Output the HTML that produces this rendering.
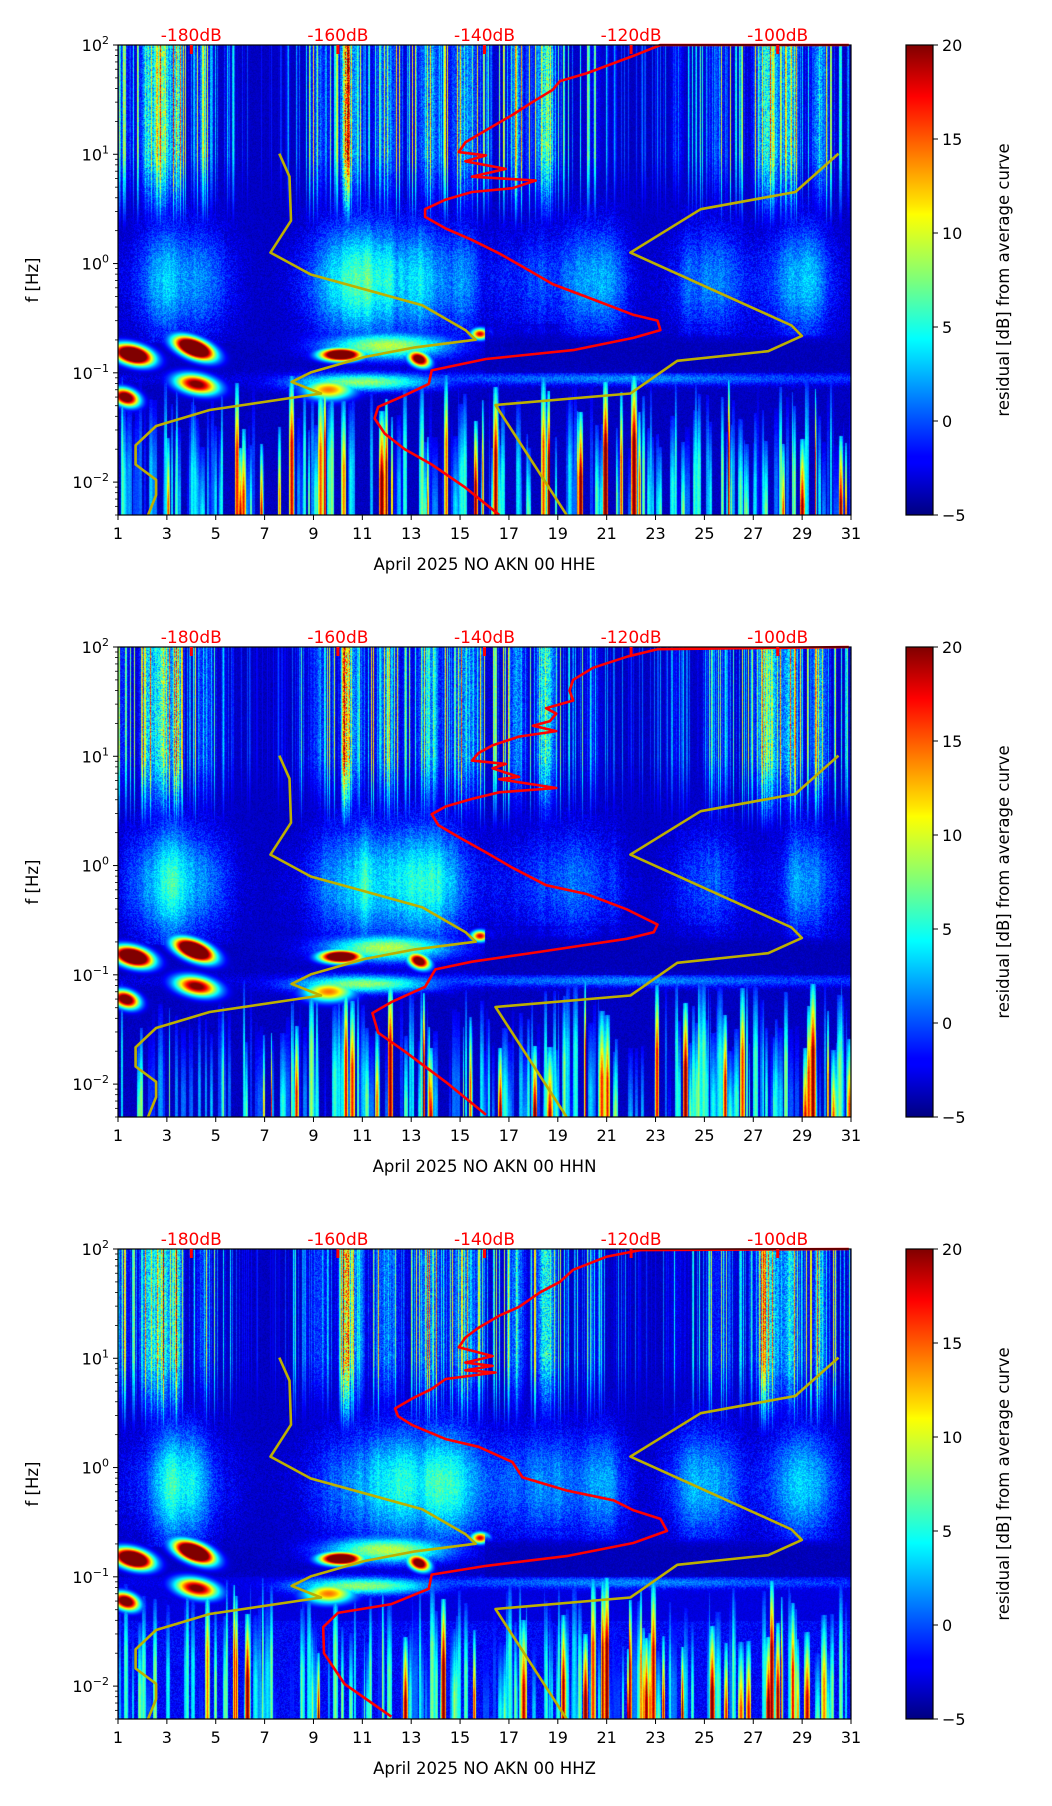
<!DOCTYPE html>
<html><head><meta charset="utf-8">
<style>
html,body{margin:0;padding:0;background:#fff;}
#wrap{position:relative;width:1052px;height:1806px;overflow:hidden;}
canvas{position:absolute;}
svg{position:absolute;left:0;top:0;}
text{font-family:"DejaVu Sans","Liberation Sans",sans-serif;}
</style></head>
<body>
<div id="wrap">
<canvas id="c0" width="733" height="470" style="left:118px;top:45px"></canvas>
<canvas id="c1" width="733" height="470" style="left:118px;top:647px"></canvas>
<canvas id="c2" width="733" height="470" style="left:118px;top:1249px"></canvas>
<svg id="ov" width="1052" height="1806">
<defs>
<linearGradient id="jet" x1="0" y1="1" x2="0" y2="0">
<stop offset="0" stop-color="#000080"/><stop offset="0.11" stop-color="#0000ff"/>
<stop offset="0.125" stop-color="#0000ff"/><stop offset="0.34" stop-color="#00ddff"/>
<stop offset="0.375" stop-color="#00ffff"/><stop offset="0.5" stop-color="#7dff7a"/>
<stop offset="0.64" stop-color="#ffff00"/><stop offset="0.66" stop-color="#ffe600"/>
<stop offset="0.89" stop-color="#ff0000"/><stop offset="1" stop-color="#800000"/>
</linearGradient>
</defs>
</svg>
</div>
<script>
// ---- data ----
const channels = ["HHE","HHN","HHZ"];
const dayTicks = [1,3,5,7,9,11,13,15,17,19,21,23,25,27,29,31];
const dbTicks = [-180,-160,-140,-120,-100];
const decadeTicks = [2,1,0,-1,-2];
const cbTicks = [20,15,10,5,0,-5];
// red PSD curves (dB, log10 f)
const redDbE = [-90.3,-116,-119.7,-126.1,-129.7,-130.7,-133.4,-136.2,-139.8,-142.6,-143.5,-139.8,-142.6,-137.1,-141.7,-133,-136.2,-141.7,-145.3,-148.1,-148.1,-145.3,-141.7,-138,-133.4,-130.7,-125.2,-119.7,-116.4,-116,-119.7,-127.9,-139.8,-147.2,-147.6,-150.9,-154.5,-155,-153.6,-150.9,-147.2,-142.6,-138];
const redLfE = [2,2,1.9,1.74,1.67,1.59,1.48,1.36,1.22,1.11,1.02,0.99,0.936,0.866,0.795,0.76,0.69,0.655,0.585,0.497,0.427,0.321,0.216,0.093,-0.083,-0.188,-0.328,-0.469,-0.522,-0.609,-0.68,-0.792,-0.873,-0.978,-1.101,-1.207,-1.312,-1.417,-1.557,-1.698,-1.839,-2.05,-2.3];
const redDbN = [-90.3,-116.4,-120.6,-125.2,-127.9,-128.4,-127.9,-131.6,-130.2,-131.1,-133.4,-130.2,-135.3,-138.9,-140.8,-141.7,-137.1,-138.9,-135.3,-138,-130.2,-138,-141.7,-145.3,-147.2,-146.3,-143.5,-139.8,-136.2,-131.6,-126.1,-120.6,-116.4,-116.9,-120.6,-132.5,-141.7,-146.7,-148.1,-152.7,-155.3,-154.5,-150.9,-145.3,-139.8];
const redLfN = [2,1.98,1.91,1.81,1.70,1.60,1.51,1.44,1.39,1.32,1.28,1.23,1.18,1.10,1.03,0.96,0.93,0.89,0.81,0.79,0.71,0.67,0.61,0.54,0.47,0.37,0.26,0.12,-0.02,-0.18,-0.26,-0.40,-0.54,-0.61,-0.67,-0.79,-0.88,-0.95,-1.11,-1.25,-1.35,-1.53,-1.70,-1.98,-2.28];
const redDbZ = [-90.3,-118.7,-123.3,-127.9,-129.7,-132.5,-135.3,-138,-140.8,-142.6,-143.5,-138.9,-142.6,-138.9,-142.6,-138.5,-145.3,-147.2,-149.9,-152.2,-151.8,-149.9,-145.3,-140.8,-136.2,-134.8,-128.8,-122.4,-119.7,-116,-115.1,-119.7,-128.8,-139.8,-147.2,-147.6,-152.7,-160,-162,-161.9,-159.1,-152.7];
const redLfZ = [2,1.99,1.93,1.81,1.70,1.60,1.47,1.39,1.28,1.19,1.10,1.02,0.96,0.93,0.89,0.87,0.81,0.72,0.63,0.54,0.47,0.39,0.26,0.19,0.05,-0.09,-0.21,-0.30,-0.39,-0.47,-0.58,-0.69,-0.81,-0.90,-0.98,-1.11,-1.25,-1.33,-1.46,-1.70,-1.98,-2.28];
// noise model curves (dB, log10 f)
const lowDb = [-168.0,-166.6,-166.4,-169.2,-163.7,-148.5,-142.6,-141.2,-149.5,-156.4,-163.7,-166.3,-162.3,-177.5,-184.8,-187.6,-187.6,-184.8,-184.8,-185.9];
const lowLf = [1.006,0.795,0.392,0.100,-0.100,-0.381,-0.609,-0.697,-0.767,-0.855,-0.996,-1.083,-1.189,-1.340,-1.487,-1.663,-1.839,-1.979,-2.119,-2.30];
const highDb = [-91.7,-97.6,-110.5,-120.1,-98.1,-96.7,-101.3,-113.7,-120.1,-138.5,-128.8];
const highLf = [1.006,0.655,0.497,0.100,-0.567,-0.662,-0.802,-0.890,-1.189,-1.294,-2.30];

// ---- geometry ----
const PL=118, PW=733, PH=470, TOP0=45, STEP=602;
const LFMIN=Math.log10(0.005), LFMAX=2;
function xDay(d){return PL+(d-1)/30*PW;}
function xDb(db){return xDay(4+(db+180)*0.3);}
function yLf(T,lf){return T+(LFMAX-lf)/(LFMAX-LFMIN)*PH;}

const NS="http://www.w3.org/2000/svg";
const ov=document.getElementById('ov');
function mk(tag,attrs,parent){const e=document.createElementNS(NS,tag);for(const k in attrs)e.setAttribute(k,attrs[k]);(parent||ov).appendChild(e);return e;}

// ---- spectrogram texture ----
function rngF(seed){return function(){seed|=0;seed=seed+0x6D2B79F5|0;let t=Math.imul(seed^seed>>>15,1|seed);t=t+Math.imul(t^t>>>7,61|t)^t;return((t^t>>>14)>>>0)/4294967296;};}
function g(x,m,s){return Math.exp(-((x-m)/s)*((x-m)/s));}
function jet(v){let t=(v+5)/25;t=Math.max(0,Math.min(1,t));
 const c=x=>Math.max(0,Math.min(1,x));
 return [c(1.5-Math.abs(4*t-3))*255,c(1.5-Math.abs(4*t-2))*255,c(1.5-Math.abs(4*t-1))*255];}
function hiEnv(d){
 return 11*g(d,2.8,0.35)+10*g(d,3.4,0.2)+8*g(d,2.2,0.3)+15*g(d,10.3,0.15)+6*g(d,10.6,0.4)
 +6*g(d,13.7,0.5)+6*g(d,15.2,0.6)+11*g(d,18.5,0.35)+6*g(d,17.3,0.3)+10*g(d,27.6,0.45)+8*g(d,28.5,0.35)
 +7*g(d,29.7,0.3)+5*g(d,12,0.5)+4*g(d,9.2,0.4)+3*g(d,1.2,0.3)+4*g(d,4.5,0.3)+3*g(d,20.5,0.4)+3*g(d,25.5,0.5)+4*g(d,23.8,0.3);}
function darkHi(d){return 1-0.8*g(d,7,1.3)-0.6*g(d,22.5,2.5);}
function haze(d){
 return 6*g(d,3.3,2.0)+7*g(d,11.2,2.3)+5*g(d,14.5,1.5)+4.5*g(d,18.5,2)+3*g(d,21,1)+4.5*g(d,25,1.6)+4.5*g(d,29,1.5);}
function blob(d,lf,dc,lc,sd,sl,a,skew){const dd=d-dc-skew*(lf-lc);return a*g(dd,0,sd)*g(lf,lc,sl)-4;}
function drawPanel(idx){
 const cv=document.getElementById('c'+idx);const ctx=cv.getContext('2d');
 const img=ctx.createImageData(PW,PH);const r=rngF(1234+idx*77);
 const spikes=[];
 for(let k=0;k<220;k++){const q=r();spikes.push({x:r()*PW,w:0.7+r()*2.2,a:(q<0.12?14+r()*10:r()*12-3),top:-1.0-r()*0.7});}
 const plume=new Float32Array(PW);let pv=0.5;
 for(let px=0;px<PW;px++){pv+= (r()-0.5)*0.25; pv=Math.max(0.1,Math.min(1.2,pv)); plume[px]=pv;}
 for(let px=0;px<PW;px++){
  const d=1+px/PW*30;
  const cr=Math.pow(r(),4);
  const hh=hiEnv(d), hz=haze(d)*(0.6+0.7*plume[px]), dk=darkHi(d);
  let best=-9, btop=0;
  for(const s of spikes){const dx=Math.abs(px-s.x);if(dx<s.w){const val=s.a*(1-dx/s.w*0.5);if(val>best){best=val;btop=s.top;}}}
  for(let py=0;py<PH;py++){
   const lf=LFMAX-py/PH*(LFMAX-LFMIN);
   let v=-4.7+r()*1.0;
   if(lf>0.2){
     const f=Math.min(1,(lf-0.2)/0.8);
     v=Math.max(v,-4.6+f*dk*(hh*(0.5+r()*0.6)+cr*14+r()*2));
   }
   if(lf>-0.72&&lf<0.9){
     let hv=-4.5+hz*1.25*g(lf,-0.15,0.55)+(r()-0.5)*3;
     v=Math.max(v,hv);
   }
   let b=-5;
   b=Math.max(b,blob(d,lf,1.6,-0.83,0.7,0.09,40,-3));
   b=Math.max(b,blob(d,lf,4.1,-0.77,0.65,0.1,42,-4));
   b=Math.max(b,blob(d,lf,10.1,-0.83,0.8,0.055,38,0));
   b=Math.max(b,blob(d,lf,13.3,-0.87,0.4,0.07,30,-2));
   b=Math.max(b,blob(d,lf,15.8,-0.64,0.35,0.05,22,0));
   b=Math.max(b,blob(d,lf,1.3,-1.22,0.5,0.08,30,-2));
   b=Math.max(b,blob(d,lf,4.2,-1.1,0.8,0.09,26,-3));
   b=Math.max(b,blob(d,lf,9.6,-1.15,1.0,0.09,18,0));
   b=Math.max(b,blob(d,lf,12,-0.75,2.6,0.12,13,0)+(r()-0.5)*2);
   b=Math.max(b,blob(d,lf,11,-1.08,3,0.08,12,0)+(r()-0.5)*2);
   b=Math.max(b,(d>13?5:2)*g(lf,-1.05,0.06)*(0.6+0.5*g(d,22,6))-4+(r()-0.5)*2.5);
   v=Math.max(v,b);
   if(d>16 && lf<-0.55 && lf>-1.0) v=Math.min(v,-4+r()*1.5+6*g(lf,-0.6,0.05)*plume[px]);
   if(lf<-1.0){
     if(best>-9 && lf<btop){const taper=Math.min(1,(btop-lf)/0.6);v=Math.max(v,-4+(best+4)*(0.3+0.7*taper)+(r()-0.5));}
     if(idx===2) v=Math.max(v,-3.2+2.5*r()*(lf<-1.4?1:0.4));
   }
   const c=jet(v);const o=(py*PW+px)*4;
   img.data[o]=c[0];img.data[o+1]=c[1];img.data[o+2]=c[2];img.data[o+3]=255;
  }
 }
 ctx.putImageData(img,0,0);
}

function poly(T,dbs,lfs,color,w,name){
 let p='';for(let i=0;i<dbs.length;i++){p+=(i?' ':'')+xDb(dbs[i]).toFixed(1)+','+yLf(T,lfs[i]).toFixed(1);}
 const e=mk('polyline',{points:p,fill:'none',stroke:color,'stroke-width':w,'stroke-linejoin':'round','clip-path':'url(#clip'+T+')'});
 
 
}

const reds=[[redDbE,redLfE],[redDbN,redLfN],[redDbZ,redLfZ]];
for(let i=0;i<3;i++){
 drawPanel(i);
 const T=TOP0+i*STEP;
 const cp=mk('clipPath',{id:'clip'+T});mk('rect',{x:PL,y:T-2,width:PW,height:PH+2},cp);
 poly(T,lowDb,lowLf,'#bdb000',2.6,'low-noise-model-line');
 poly(T,highDb,highLf,'#bdb000',2.6,'high-noise-model-line');
 poly(T,reds[i][0],reds[i][1],'#ff0000',2.6,'psd-average-curve');
 const fr=mk('rect',{x:PL,y:T,width:PW,height:PH,fill:'none',stroke:'#000','stroke-width':1.2});
 
 
 dayTicks.forEach(d=>{
  const x=xDay(d);
  mk('line',{x1:x,y1:T+PH,x2:x,y2:T+PH+5,stroke:'#000','stroke-width':1});
  const t=mk('text',{x:x,y:T+PH+24,'font-size':16,'text-anchor':'middle',fill:'#000'});t.textContent=d;
  
  
 });
 const xl=mk('text',{x:PL+PW/2,y:T+PH+55,'font-size':16.5,'text-anchor':'middle',fill:'#000'});
 xl.textContent='April 2025 NO AKN 00 '+channels[i];
 
 
 decadeTicks.forEach(k=>{
  const y=yLf(T,k);
  mk('line',{x1:PL-5,y1:y,x2:PL,y2:y,stroke:'#000','stroke-width':1});
  const t=mk('text',{x:PL-9,y:y+6,'font-size':16,'text-anchor':'end',fill:'#000'});
  const a=mk('tspan',{},t);a.textContent='10';
  const s=mk('tspan',{dy:-7,'font-size':11},t);s.textContent=(k<0?'\u2212':'')+Math.abs(k);
  
  
 });
 for(let e=-3;e<2;e++){for(let m=2;m<10;m++){const lf=e+Math.log10(m);if(lf<LFMIN||lf>LFMAX)continue;
  const y=yLf(T,lf);mk('line',{x1:PL-3,y1:y,x2:PL,y2:y,stroke:'#000','stroke-width':0.8});}}
 const yl=mk('text',{x:0,y:0,'font-size':16.5,'text-anchor':'middle',fill:'#000',transform:'translate(38,'+(T+PH/2)+') rotate(-90)'});
 yl.textContent='f [Hz]';
 
 
 dbTicks.forEach(db=>{
  const x=xDb(db);
  mk('rect',{x:x-1.5,y:T,width:3,height:9,fill:'#ff0000'});
  const t=mk('text',{x:x,y:T-4,'font-size':17,'text-anchor':'middle',fill:'#ff0000'});t.textContent=db+'dB';
  
  
 });
 const CX=906,CW=27;
 const cb=mk('rect',{x:CX,y:T,width:CW,height:PH,fill:'url(#jet)',stroke:'#000','stroke-width':1.2});
 
 
 cbTicks.forEach(v=>{
  const y=T+(20-v)/25*PH;
  mk('line',{x1:CX+CW,y1:y,x2:CX+CW+5,y2:y,stroke:'#000','stroke-width':1});
  const t=mk('text',{x:CX+CW+9,y:y+6,'font-size':16,fill:'#000'});t.textContent=(v<0?'\u2212':'')+Math.abs(v);
  
  
 });
 const cl=mk('text',{x:0,y:0,'font-size':16.5,'text-anchor':'middle',fill:'#000',transform:'translate(1009,'+(T+PH/2)+') rotate(-90)'});
 cl.textContent='residual [dB] from average curve';
 
 
}
</script>
</body></html>
